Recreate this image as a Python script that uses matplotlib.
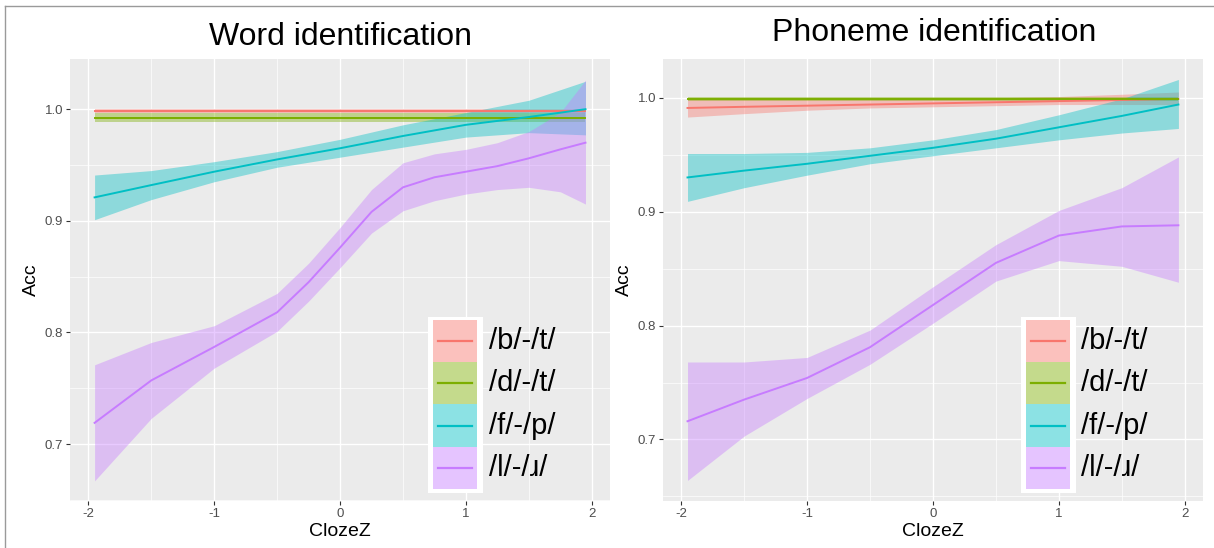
import matplotlib
matplotlib.use('Agg')
import matplotlib.pyplot as plt
from matplotlib.patches import Rectangle
from matplotlib.lines import Line2D

plt.rcParams['font.family'] = ['Liberation Sans', 'DejaVu Sans']
plt.rcParams['axes.unicode_minus'] = False

labels = ['/b/-/t/', '/d/-/t/', '/f/-/p/', '/l/-/ɹ/']
colors = ['#F8766D', '#7CAE00', '#00BFC4', '#C77CFF']

x_flat = [-1.95, 1.95]
x_lin = [-1.95, -1.5, -1.0, -0.5, 0.0, 0.5, 1.0, 1.5, 1.95]
x_curve = [-1.95, -1.5, -1.0, -0.5, -0.25, 0.0, 0.25, 0.5, 0.75, 1.0, 1.25, 1.5, 1.75, 1.95]

# Word identification
word_bt = [0.9985, 0.9985]
word_bt_lo = [0.997, 0.997]
word_bt_hi = [1.0, 1.0]
word_dt = [0.9925, 0.9925]
word_dt_lo = [0.9888, 0.9888]
word_dt_hi = [0.9963, 0.9963]
word_fp = [0.921, 0.932, 0.944, 0.955, 0.965, 0.976, 0.986, 0.993, 1.0]
word_fp_lo = [0.901, 0.919, 0.935, 0.948, 0.957, 0.966, 0.975, 0.979, 0.977]
word_fp_hi = [0.941, 0.945, 0.953, 0.962, 0.973, 0.986, 0.997, 1.008, 1.025]
word_lr = [0.719, 0.757, 0.787, 0.818, 0.845, 0.876, 0.908, 0.930, 0.939,
           0.944, 0.949, 0.956, 0.964, 0.970]
word_lr_lo = [0.667, 0.723, 0.768, 0.801, 0.828, 0.858, 0.889, 0.909, 0.918,
              0.924, 0.928, 0.930, 0.926, 0.915]
word_lr_hi = [0.771, 0.791, 0.806, 0.835, 0.862, 0.894, 0.928, 0.952, 0.960,
              0.964, 0.970, 0.980, 0.997, 1.026]

# Phoneme identification
phon_bt = [0.991, 0.992, 0.993, 0.994, 0.995, 0.996, 0.997, 0.998, 0.999]
phon_bt_lo = [0.983, 0.986, 0.989, 0.991, 0.992, 0.993, 0.994, 0.994, 0.994]
phon_bt_hi = [0.999, 0.999, 0.999, 0.999, 0.999, 1.0, 1.001, 1.003, 1.005]
phon_dt = [0.999, 0.999]
phon_dt_lo = [0.9975, 0.9975]
phon_dt_hi = [1.0005, 1.0005]
phon_fp = [0.930, 0.936, 0.942, 0.949, 0.956, 0.964, 0.974, 0.984, 0.994]
phon_fp_lo = [0.909, 0.921, 0.932, 0.942, 0.949, 0.956, 0.963, 0.969, 0.973]
phon_fp_hi = [0.951, 0.951, 0.952, 0.956, 0.963, 0.972, 0.985, 0.999, 1.016]
phon_lr = [0.716, 0.735, 0.754, 0.781, 0.818, 0.855, 0.879, 0.887, 0.888]
phon_lr_lo = [0.664, 0.703, 0.736, 0.766, 0.802, 0.839, 0.857, 0.852, 0.838]
phon_lr_hi = [0.768, 0.768, 0.772, 0.796, 0.834, 0.871, 0.901, 0.921, 0.948]

x_ticks = [-2, -1, 0, 1, 2]
x_minor = [-1.5, -0.5, 0.5, 1.5]
y_ticks = [0.7, 0.8, 0.9, 1.0]
y_minor = [0.65, 0.75, 0.85, 0.95]


def style_panel(ax, ylim):
    ax.set_facecolor('#EBEBEB')
    ax.set_xlim(-2.145, 2.145)
    ax.set_ylim(*ylim)
    ax.set_xticks(x_ticks)
    ax.set_xticks(x_minor, minor=True)
    ax.set_yticks(y_ticks)
    ax.set_yticks(y_minor, minor=True)
    ax.set_yticklabels(['0.7', '0.8', '0.9', '1.0'])
    ax.grid(which='major', color='white', linewidth=1.0)
    ax.grid(which='minor', color='white', linewidth=0.5)
    ax.set_axisbelow(True)
    for s in ax.spines.values():
        s.set_visible(False)
    ax.tick_params(which='major', length=3, width=0.8, color='#333333',
                   labelcolor='#4D4D4D', labelsize=9.5, pad=2)
    ax.tick_params(which='minor', length=0)
    ax.set_xlabel('ClozeZ', fontsize=14, labelpad=2)
    ax.set_ylabel('Acc', fontsize=14, labelpad=3)


def draw_smooth(ax, x, y, lo, hi, color):
    ax.fill_between(x, lo, hi, color=color, alpha=0.4, linewidth=0)
    ax.plot(x, y, color=color, linewidth=1.4)


def draw_key(ax):
    ax.add_patch(Rectangle((0.663, 0.018), 0.102, 0.398, transform=ax.transAxes,
                           facecolor='white', edgecolor='none', zorder=5))
    h = 0.0956
    top = 0.4095
    for i, (lab, col) in enumerate(zip(labels, colors)):
        y0 = top - (i + 1) * h
        ax.add_patch(Rectangle((0.672, y0), 0.0815, h, transform=ax.transAxes,
                               facecolor=col, alpha=0.45, edgecolor='none', zorder=6))
        ax.add_line(Line2D([0.681, 0.744], [y0 + h / 2] * 2, transform=ax.transAxes,
                           color=col, linewidth=1.6, zorder=7))
        ax.text(0.775, y0 + h / 2, lab, transform=ax.transAxes, fontsize=21,
                va='center', ha='left', color='black', zorder=7)


fig = plt.figure(figsize=(12.14, 5.48), dpi=100)
ax1 = fig.add_axes([0.0577, 0.0858, 0.4448, 0.8066])
ax2 = fig.add_axes([0.5461, 0.0858, 0.4448, 0.8066])

style_panel(ax1, (0.649, 1.045))
draw_smooth(ax1, x_flat, word_bt, word_bt_lo, word_bt_hi, colors[0])
draw_smooth(ax1, x_flat, word_dt, word_dt_lo, word_dt_hi, colors[1])
draw_smooth(ax1, x_lin, word_fp, word_fp_lo, word_fp_hi, colors[2])
draw_smooth(ax1, x_curve, word_lr, word_lr_lo, word_lr_hi, colors[3])
draw_key(ax1)

style_panel(ax2, (0.646, 1.034))
draw_smooth(ax2, x_lin, phon_bt, phon_bt_lo, phon_bt_hi, colors[0])
draw_smooth(ax2, x_flat, phon_dt, phon_dt_lo, phon_dt_hi, colors[1])
draw_smooth(ax2, x_lin, phon_fp, phon_fp_lo, phon_fp_hi, colors[2])
draw_smooth(ax2, x_lin, phon_lr, phon_lr_lo, phon_lr_hi, colors[3])
draw_key(ax2)

fig.text(0.2801, 0.9325, 'Word identification', fontsize=23, ha='center', va='center')
fig.text(0.7695, 0.939, 'Phoneme identification', fontsize=23, ha='center', va='center')

# thin grey frame around the image (top and left edges visible)
fig.add_artist(Line2D([5 / 1214, 1], [1 - 6 / 548] * 2, color='#9A9A9A', linewidth=1))
fig.add_artist(Line2D([5 / 1214] * 2, [0, 1 - 6 / 548], color='#9A9A9A', linewidth=1))

fig.savefig('out.png', dpi=100)
